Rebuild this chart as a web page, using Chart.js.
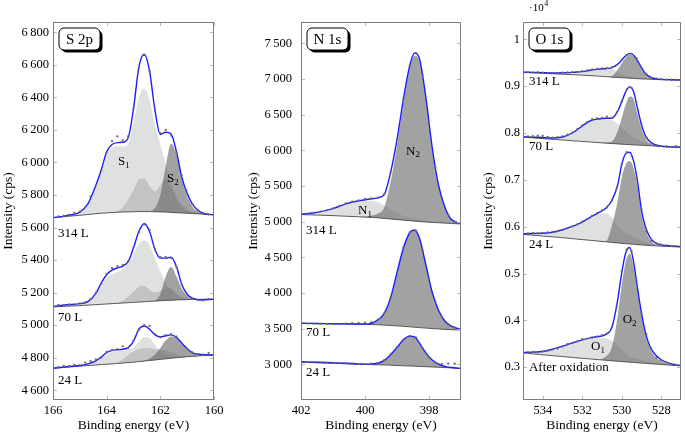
<!DOCTYPE html>
<html lang="en">
<head>
<meta charset="UTF-8">
<title>XPS S 2p / N 1s / O 1s</title>
<script src="https://cdn.jsdelivr.net/npm/chart.js"></script>
<style>
  body { margin: 0; background: #fff; width: 685px; height: 434px; position: relative; overflow: hidden; }
  canvas { position: absolute; top: 0; }
</style>
</head>
<body>
<canvas id="cS" width="232" height="434" style="left:0px"></canvas>
<canvas id="cN" width="225" height="434" style="left:245px"></canvas>
<canvas id="cO" width="205" height="434" style="left:480px"></canvas>
<script>
// ---------- S 2p ----------
const sBE = [166, 165.5, 165, 164.7, 164.4, 164.2, 164.0, 163.8, 163.6, 163.4, 163.2, 163.0, 162.8, 162.6, 162.4, 162.2, 162.0, 161.8, 161.6, 161.4, 161.2, 161.0, 160.8, 160.5, 160.0];
const s314Bg  = [5660,5668,5675,5680,5685,5688,5690,5692,5694,5695,5696,5697,5698,5698,5698,5697,5696,5695,5693,5691,5689,5688,5686,5683,5678];
const s314S1  = [5660,5671,5690,5738,5848,5935,6040,6088,6100,6098,6115,6240,6400,6455,6385,6230,6110,5990,5880,5795,5742,5713,5698,5688,5678];
const s314S2a = [5660,5668,5675,5680,5685,5688,5690,5692,5700,5725,5770,5830,5895,5900,5855,5822,5860,5905,5850,5780,5730,5705,5692,5684,5678];
const s314S2b = [5660,5668,5675,5680,5685,5688,5690,5692,5694,5695,5696,5697,5698,5698,5700,5720,5800,5975,6115,6050,5905,5795,5728,5690,5678];
const s314Env = [5660,5673,5695,5745,5860,5955,6065,6110,6122,6124,6150,6330,6585,6665,6560,6320,6172,6185,6175,6066,5910,5810,5742,5695,5677];
const s70Bg   = [5112,5116,5120,5123,5126,5128,5130,5132,5134,5136,5138,5140,5142,5144,5146,5148,5150,5152,5153,5155,5156,5157,5158,5159,5160];
const s70S1   = [5113,5120,5128,5140,5183,5243,5288,5313,5326,5343,5378,5438,5498,5522,5490,5410,5330,5262,5215,5185,5168,5160,5158,5159,5160];
const s70S2a  = [5112,5116,5120,5123,5126,5128,5130,5132,5136,5150,5175,5205,5236,5240,5217,5200,5212,5235,5225,5195,5172,5162,5159,5159,5160];
const s70S2b  = [5112,5116,5120,5123,5126,5128,5130,5132,5134,5136,5138,5140,5142,5144,5146,5152,5192,5300,5358,5300,5225,5180,5163,5159,5160];
const s70Env  = [5115,5125,5132,5145,5195,5260,5310,5338,5352,5362,5390,5475,5575,5625,5575,5465,5412,5412,5418,5360,5250,5190,5166,5155,5160];
const s24Bg   = [4735,4741,4748,4752,4755,4758,4760,4762,4765,4767,4770,4772,4776,4779,4783,4786,4790,4793,4797,4800,4803,4806,4808,4812,4817];
const s24S1   = [4735,4743,4750,4758,4775,4800,4822,4836,4840,4843,4848,4862,4900,4925,4922,4880,4840,4815,4805,4804,4805,4807,4809,4813,4817];
const s24S2a  = [4735,4741,4748,4752,4755,4758,4760,4762,4768,4790,4815,4838,4853,4860,4858,4852,4850,4845,4835,4822,4812,4808,4808,4812,4817];
const s24S2b  = [4735,4741,4748,4752,4755,4758,4760,4762,4765,4767,4770,4772,4776,4782,4795,4820,4860,4905,4930,4920,4885,4850,4826,4815,4817];
const s24Env  = [4735,4745,4752,4762,4780,4805,4832,4845,4849,4852,4862,4900,4975,4995,4975,4940,4928,4935,4940,4925,4890,4855,4830,4820,4817];
const sDotBE  = [166,165.8,165.6,165.4,165.2,165,164.8,164.6,164.4,164.2,164,163.8,163.6,163.4,163.2,163,162.8,162.6,162.4,162.2,162,161.8,161.6,161.4,161.2,161,160.8,160.6,160.4,160.2,160];
const s314Dots = [5662,5668,5672,5678,5690,5698,5725,5790,5860,5950,6060,6130,6160,6135,6160,6330,6580,6660,6560,6330,6180,6200,6165,6060,5920,5810,5745,5705,5688,5680,5677];
const s70Dots  = [5118,5125,5122,5128,5126,5134,5140,5160,5200,5255,5315,5350,5362,5370,5392,5475,5570,5620,5585,5465,5418,5420,5412,5358,5250,5188,5163,5155,5152,5160,5165];
const s24Dots  = [4738,4742,4750,4748,4756,4752,4770,4778,4790,4800,4835,4848,4852,4870,4858,4905,4970,5000,4995,4945,4925,4938,4945,4930,4890,4855,4832,4822,4818,4830,4818];
const sXTicks = [166, 164, 162, 160];
const sYTicks = [4600, 4800, 5000, 5200, 5400, 5600, 5800, 6000, 6200, 6400, 6600, 6800];

// ---------- N 1s ----------
const nBE = [402, 401.5, 401, 400.6, 400.2, 399.9, 399.6, 399.4, 399.2, 399.0, 398.8, 398.6, 398.45, 398.3, 398.1, 397.9, 397.7, 397.5, 397.3, 397.0];
const n314Bg  = [5100,5093,5085,5077,5069,5062,5055,5046,5038,5030,5022,5014,5008,5002,4996,4990,4985,4980,4975,4968];
const n314N1  = [5100,5118,5165,5230,5280,5295,5275,5225,5170,5120,5085,5060,5045,5030,5015,5003,4993,4985,4976,4968];
const n314N2  = [5100,5093,5085,5077,5069,5078,5115,5200,5558,6060,6657,7144,7328,7262,6731,6027,5502,5195,5029,4975];
const n314Env = [5105,5130,5183,5250,5292,5315,5335,5380,5690,6150,6720,7190,7365,7290,6750,6040,5510,5200,5030,4976];
const n70Bg   = [3575,3572,3568,3565,3562,3559,3555,3550,3545,3540,3533,3526,3520,3515,3508,3502,3496,3490,3486,3480];
const n70N2   = [3575,3572,3568,3565,3562,3562,3612,3708,3925,4275,4620,4835,4873,4760,4390,4000,3748,3600,3530,3486];
const n70Env  = [3576,3573,3569,3567,3566,3568,3620,3715,3935,4285,4630,4845,4883,4770,4400,4010,3755,3605,3535,3490];
const n24Bg   = [3030,3022,3015,3008,3002,2998,2994,2991,2988,2984,2980,2977,2974,2971,2967,2963,2959,2955,2950,2943];
const n24N2   = [3030,3022,3015,3008,3002,2998,3008,3050,3130,3228,3338,3388,3378,3293,3153,3055,2998,2967,2952,2943];
const n24Env  = [3037,3030,3022,3015,3006,3003,3015,3055,3135,3235,3345,3395,3385,3300,3160,3060,3003,2972,2955,2943];
const nDotBE  = [402,401.8,401.6,401.4,401.2,401,400.8,400.6,400.4,400.2,400,399.8,399.6,399.4,399.2,399,398.8,398.6,398.4,398.2,398,397.8,397.6,397.4,397.2,397];
const n314Dots = [5105,5110,5122,5140,5160,5185,5220,5255,5280,5300,5318,5325,5338,5385,5690,6150,6720,7195,7360,7060,6370,5760,5340,5100,5000,4978];
const n70Dots  = [3575,3572,3570,3568,3566,3567,3565,3570,3578,3582,3585,3590,3625,3715,3935,4290,4640,4850,4870,4600,4200,3880,3665,3560,3518,3492];
const n24Dots  = [3037,3034,3030,3028,3025,3020,3018,3014,3008,3006,3004,3008,3018,3058,3138,3240,3345,3398,3375,3225,3100,3025,3005,3010,3008,3005];
const nXTicks = [402, 400, 398];
const nYTicks = [3000, 3500, 4000, 4500, 5000, 5500, 6000, 6500, 7000, 7500];

// ---------- O 1s ----------
const oBE = [535, 534.5, 534, 533.5, 533, 532.5, 532, 531.6, 531.2, 530.8, 530.5, 530.2, 530.0, 529.8, 529.6, 529.4, 529.2, 529.0, 528.8, 528.5, 528.0, 527.5, 527.0];
const o314Bg  = [9295,9285,9275,9265,9255,9245,9235,9225,9215,9205,9193,9186,9180,9175,9170,9165,9160,9155,9152,9147,9140,9136,9131];
const o314O1  = [9296,9290,9282,9275,9278,9290,9305,9335,9358,9370,9370,9300,9250,9220,9200,9188,9178,9168,9160,9152,9142,9136,9131];
const o314O2  = [9295,9285,9275,9265,9255,9245,9235,9225,9215,9205,9218,9356,9490,9605,9665,9637,9522,9387,9262,9175,9144,9136,9131];
const o314Env = [9300,9295,9290,9280,9285,9295,9310,9340,9365,9378,9395,9470,9560,9650,9695,9660,9540,9400,9270,9180,9146,9138,9131];
const o70Bg   = [7912,7897,7880,7865,7850,7835,7820,7808,7796,7784,7775,7768,7762,7757,7752,7747,7742,7737,7733,7726,7715,7705,7695];
const o70O1   = [7915,7905,7895,7880,7905,7990,8140,8250,8290,8295,8270,8190,8110,8030,7960,7905,7860,7815,7788,7757,7722,7706,7695];
const o70O2   = [7912,7897,7880,7865,7850,7835,7820,7808,7796,7800,7820,8048,8322,8607,8777,8722,8402,8102,7885,7759,7715,7705,7695];
const o70Env  = [7920,7912,7905,7892,7915,8000,8150,8260,8300,8315,8315,8470,8670,8880,8985,8880,8520,8180,7940,7790,7718,7705,7695];
const o24Bg   = [5835,5818,5800,5783,5765,5745,5725,5709,5693,5677,5665,5653,5645,5638,5631,5624,5617,5610,5605,5597,5585,5575,5565];
const o24O1   = [5842,5848,5852,5870,5925,5990,6085,6180,6260,6280,6200,5990,5930,5870,5820,5775,5735,5700,5672,5645,5605,5580,5567];
const o24O2   = [5835,5818,5800,5783,5765,5745,5725,5709,5693,5690,6025,6563,7045,7328,7401,7249,6842,6260,5933,5682,5592,5585,5573];
const o24Env  = [5848,5855,5860,5880,5935,6005,6100,6200,6290,6400,6560,6900,7330,7560,7590,7400,6960,6350,6000,5730,5612,5590,5575];
const oOxBg   = [3305,3285,3265,3246,3228,3209,3190,3176,3162,3148,3137,3127,3120,3114,3107,3101,3094,3088,3082,3073,3058,3044,3030];
const oOxO1   = [3308,3316,3328,3375,3438,3505,3565,3600,3620,3615,3560,3470,3380,3300,3240,3200,3170,3150,3135,3115,3085,3055,3032];
const oOxO2   = [3305,3285,3265,3246,3228,3209,3190,3176,3162,3233,3427,4107,4760,5254,5422,5151,4604,4091,3687,3338,3133,3059,3034];
const oOxEnv  = [3313,3322,3335,3385,3450,3520,3584,3625,3655,3700,3850,4450,5020,5440,5555,5250,4680,4153,3740,3380,3160,3070,3036];
const oDotBE  = [535,534.75,534.5,534.25,534,533.75,533.5,533.25,533,532.75,532.5,532.25,532,531.75,531.5,531.25,531,530.75,530.5,530.25,530,529.75,529.5,529.25,529,528.75,528.5,528.25,528,527.75,527.5,527.25,527];
const o314Dots = [9300,9298,9290,9295,9288,9280,9285,9278,9290,9292,9300,9305,9320,9335,9360,9370,9378,9385,9400,9450,9560,9660,9690,9600,9400,9250,9180,9160,9148,9140,9138,9133,9131];
const o70Dots  = [7925,7930,7935,7945,7940,7915,7900,7910,7925,7965,8010,8080,8160,8230,8295,8310,8320,8350,8320,8440,8670,8930,8960,8650,8200,7900,7780,7730,7720,7712,7705,7720,7700];
const o24Dots  = [5850,5858,5865,5860,5868,5880,5890,5905,5930,5965,6005,6050,6105,6160,6230,6290,6350,6410,6560,6820,7330,7590,7510,7050,6380,5900,5700,5640,5615,5600,5590,5582,5575];
const oOxDots  = [3315,3320,3325,3318,3340,3350,3380,3400,3440,3490,3520,3550,3600,3605,3630,3655,3680,3720,3850,4300,5050,5510,5470,4850,4150,3700,3400,3200,3150,3100,3070,3050,3040];
const oXTicks = [534, 532, 530, 528];
const oYTicks = [3000, 4000, 5000, 6000, 7000, 8000, 9000, 10000];

// annotation texts (data units)
const sPeakNames = [['S', '1', 163.36, 6003], ['S', '2', 161.53, 5898]];
const sDoses = [['314 L', 165.81, 5563], ['70 L', 165.81, 5047], ['24 L', 165.81, 4659]];
const nPeakNames = [['N', '1', 400.0, 5156], ['N', '2', 398.5, 5990]];
const nDoses = [['314 L', 401.84, 4882], ['70 L', 401.84, 3443], ['24 L', 401.84, 2882]];
const oPeakNames = [['O', '1', 531.2, 3434], ['O', '2', 529.6, 4010]];
const oDoses = [['314 L', 534.7, 9104], ['70 L', 534.7, 7719], ['24 L', 534.7, 5617], ['After oxidation', 534.7, 2992]];

const FONT = '"Liberation Serif", "DejaVu Serif", serif';
const LIGHT = 'rgba(212,214,214,0.75)';
const MED = 'rgba(140,140,140,0.35)';
const DARK = 'rgba(100,100,100,0.6)';

Chart.defaults.font.family = FONT;
Chart.defaults.color = '#000';

const pts = (xs, ys) => xs.map((x, i) => ({ x: x, y: ys[i] }));

function spectrum(list, xs, bg, comps, env, dx, dy) {
  const b = list.length;
  list.push({ data: pts(xs, bg), borderColor: '#4a4a4a', borderWidth: 0.9, fill: false, order: 2 });
  comps.forEach(c => list.push({
    data: pts(xs, c[0]), borderColor: 'rgba(0,0,0,0)', borderWidth: 1,
    backgroundColor: c[1], fill: b, order: c[2]
  }));
  list.push({ data: pts(xs, env), borderColor: '#1c1cff', borderWidth: 1.4, fill: false, order: 1 });
  list.push({ data: pts(dx, dy), showLine: false, pointRadius: 1.15, pointBackgroundColor: '#6a6a6a', pointBorderWidth: 0, order: 0 });
}

function rr(ctx, x, y, w, h, r) {
  ctx.beginPath();
  ctx.moveTo(x + r, y);
  ctx.arcTo(x + w, y, x + w, y + h, r);
  ctx.arcTo(x + w, y + h, x, y + h, r);
  ctx.arcTo(x, y + h, x, y, r);
  ctx.arcTo(x, y, x + w, y, r);
  ctx.closePath();
}

const decor = {
  id: 'decor',
  afterDatasetsDraw(chart, args, o) {
    const { ctx, chartArea: a, scales: { x, y } } = chart;
    ctx.save();
    // little inner ticks on all four sides
    ctx.strokeStyle = '#b8b8b8';
    ctx.lineWidth = 1;
    ctx.beginPath();
    o.xt.forEach(v => {
      const p = Math.round(x.getPixelForValue(v)) + 0.5;
      ctx.moveTo(p, a.bottom); ctx.lineTo(p, a.bottom - 4);
      ctx.moveTo(p, a.top); ctx.lineTo(p, a.top + 4);
    });
    o.yt.forEach(v => {
      const p = Math.round(y.getPixelForValue(v)) + 0.5;
      ctx.moveTo(a.left, p); ctx.lineTo(a.left + 4, p);
      ctx.moveTo(a.right, p); ctx.lineTo(a.right - 4, p);
    });
    ctx.stroke();
    ctx.strokeStyle = '#7d7d7d';
    ctx.strokeRect(a.left + 0.5, a.top + 0.5, a.width - 1, a.height - 1);

    // panel name in a shadowed box
    const bx = a.left + 6, by = a.top + 6, bw = 41, bh = 22;
    rr(ctx, bx + 2.5, by + 2.5, bw, bh, 5); ctx.fillStyle = '#000'; ctx.fill();
    rr(ctx, bx, by, bw, bh, 5); ctx.fillStyle = '#fff'; ctx.fill();
    ctx.strokeStyle = '#000'; ctx.lineWidth = 1; ctx.stroke();
    ctx.fillStyle = '#000';
    ctx.font = '15px ' + FONT;
    ctx.textAlign = 'center'; ctx.textBaseline = 'middle';
    ctx.fillText(o.name, bx + bw / 2, by + bh / 2 + 1);

    // component names with subscripts
    o.peaks.forEach(p => {
      ctx.font = '13px ' + FONT; const w1 = ctx.measureText(p[0]).width;
      ctx.font = '9px ' + FONT; const w2 = ctx.measureText(p[1]).width;
      const px = x.getPixelForValue(p[2]) - (w1 + w2) / 2, py = y.getPixelForValue(p[3]);
      ctx.textAlign = 'left';
      ctx.font = '13px ' + FONT; ctx.fillText(p[0], px, py);
      ctx.font = '9px ' + FONT; ctx.fillText(p[1], px + w1, py + 4);
    });

    // exposure labels
    ctx.font = '13px ' + FONT; ctx.textAlign = 'left';
    o.doses.forEach(d => ctx.fillText(d[0], x.getPixelForValue(d[1]), y.getPixelForValue(d[2])));

    if (o.scale) {
      ctx.font = '11px ' + FONT;
      ctx.fillText('\u00b710', a.left + 6, a.top - 14);
      const w = ctx.measureText('\u00b710').width;
      ctx.font = '8px ' + FONT;
      ctx.fillText('4', a.left + 6 + w + 0.5, a.top - 18);
    }
    ctx.restore();
  }
};

const thin = v => {
  const s = String(v);
  return s.length > 3 ? s.slice(0, s.length - 3) + '\u2009' + s.slice(-3) : s;
};

function panel(id, p) {
  return new Chart(document.getElementById(id), {
    type: 'line',
    data: { datasets: p.datasets },
    options: {
      responsive: false,
      animation: false,
      devicePixelRatio: 1,
      layout: { padding: { top: 22, right: p.padR, left: 0, bottom: 0 } },
      elements: { point: { radius: 0 }, line: { cubicInterpolationMode: 'monotone' } },
      plugins: {
        legend: { display: false },
        tooltip: { enabled: false },
        decor: { xt: p.xt, yt: p.yt, name: p.name, peaks: p.peaks, doses: p.doses, scale: p.scale }
      },
      scales: {
        x: {
          type: 'linear', reverse: true, min: p.xmin, max: p.xmax,
          afterBuildTicks: s => { s.ticks = p.xt.map(v => ({ value: v })); },
          afterFit: s => { s.height = 34; },
          grid: { display: false, drawTicks: false },
          border: { display: false },
          ticks: { padding: 3, maxRotation: 0, autoSkip: false, font: { size: 12.5 } },
          title: { display: true, text: 'Binding energy (eV)', padding: 0, font: { size: 13.5 } }
        },
        y: {
          type: 'linear', min: p.ymin, max: p.ymax,
          afterBuildTicks: s => { s.ticks = p.yt.map(v => ({ value: v })); },
          afterFit: s => { s.width = p.yw; },
          grid: { display: false, drawTicks: false },
          border: { display: false },
          ticks: { padding: p.tp, autoSkip: false, font: { size: 12.5 }, callback: p.fmt },
          title: { display: true, text: 'Intensity (cps)', padding: 0, font: { size: 13.5 } }
        }
      }
    },
    plugins: [decor]
  });
}

// S 2p panel
const sSets = [];
spectrum(sSets, sBE, s314Bg, [[s314S1, LIGHT, 5], [s314S2a, MED, 4], [s314S2b, DARK, 3]], s314Env, sDotBE, s314Dots);
spectrum(sSets, sBE, s70Bg, [[s70S1, LIGHT, 5], [s70S2a, MED, 4], [s70S2b, DARK, 3]], s70Env, sDotBE, s70Dots);
spectrum(sSets, sBE, s24Bg, [[s24S1, LIGHT, 5], [s24S2a, MED, 4], [s24S2b, DARK, 3]], s24Env, sDotBE, s24Dots);
panel('cS', {
  datasets: sSets, xmin: 160, xmax: 166, ymin: 4540, ymax: 6863,
  xt: sXTicks, yt: sYTicks, padR: 18, yw: 53, tp: 4, fmt: v => thin(v),
  name: 'S 2p', peaks: sPeakNames, doses: sDoses, scale: false
});

// N 1s panel
const nSets = [];
spectrum(nSets, nBE, n314Bg, [[n314N1, LIGHT, 5], [n314N2, DARK, 3]], n314Env, nDotBE, n314Dots);
spectrum(nSets, nBE, n70Bg, [[n70N2, DARK, 3]], n70Env, nDotBE, n70Dots);
spectrum(nSets, nBE, n24Bg, [[n24N2, DARK, 3]], n24Env, nDotBE, n24Dots);
panel('cN', {
  datasets: nSets, xmin: 397, xmax: 402, ymin: 2500, ymax: 7800,
  xt: nXTicks, yt: nYTicks, padR: 9, yw: 56, tp: 9, fmt: v => thin(v),
  name: 'N 1s', peaks: nPeakNames, doses: nDoses, scale: false
});

// O 1s panel
const oSets = [];
spectrum(oSets, oBE, o314Bg, [[o314O1, LIGHT, 5], [o314O2, DARK, 3]], o314Env, oDotBE, o314Dots);
spectrum(oSets, oBE, o70Bg, [[o70O1, LIGHT, 5], [o70O2, DARK, 3]], o70Env, oDotBE, o70Dots);
spectrum(oSets, oBE, o24Bg, [[o24O1, LIGHT, 5], [o24O2, DARK, 3]], o24Env, oDotBE, o24Dots);
spectrum(oSets, oBE, oOxBg, [[oOxO1, LIGHT, 5], [oOxO2, DARK, 3]], oOxEnv, oDotBE, oOxDots);
panel('cO', {
  datasets: oSets, xmin: 527, xmax: 535, ymin: 2300, ymax: 10370,
  xt: oXTicks, yt: oYTicks, padR: 1, yw: 43, tp: 3, fmt: v => String(Math.round(v / 1000) / 10),
  name: 'O 1s', peaks: oPeakNames, doses: oDoses, scale: true
});
</script>
</body>
</html>
